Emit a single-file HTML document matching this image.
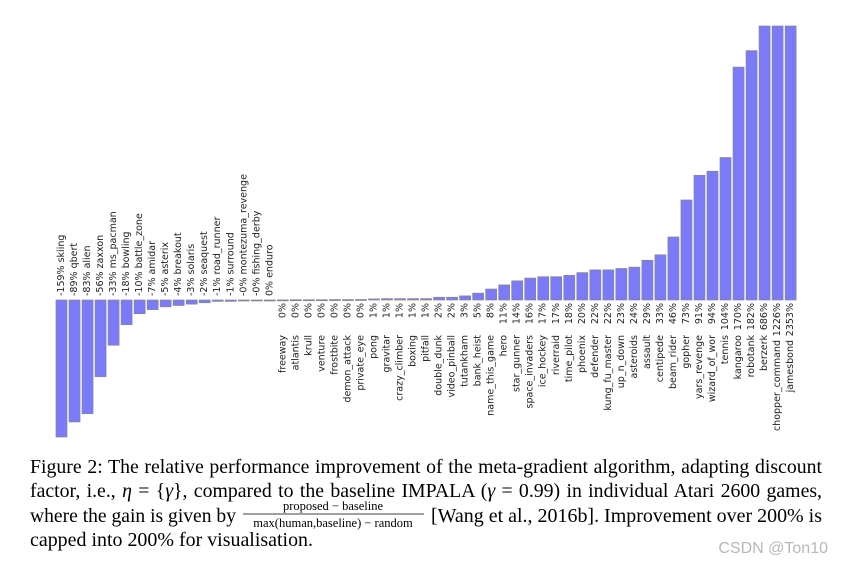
<!DOCTYPE html>
<html><head><meta charset="utf-8"><style>
body{margin:0;background:#fff;width:842px;height:565px;overflow:hidden;position:relative}
svg{display:block;position:absolute;left:0;top:0}
.cap{font-family:"Liberation Serif",serif;font-size:19.8px;fill:#000}
.line{position:absolute;left:30px;width:792px;font-family:"Liberation Serif",serif;font-size:19.8px;color:#000;text-align:justify;text-align-last:justify;line-height:22px;height:22px;overflow:hidden}
.lab{font-family:"DejaVu Sans","Liberation Sans",sans-serif;font-size:9.5px;fill:#222}
</style></head><body>
<svg id="chart" width="842" height="565">
<g id="bars"></g>
<g id="labels"></g>
<g>
<text class="cap" x="30" y="522" textLength="206" lengthAdjust="spacingAndGlyphs">where the gain is given by</text>
<text class="cap" x="333" y="510" text-anchor="middle" style="font-size:12.5px">proposed − baseline</text>
<line x1="243" x2="424" y1="514" y2="514" stroke="#000" stroke-width="0.8"/>
<text class="cap" x="333" y="527" text-anchor="middle" style="font-size:12.5px">max(human,baseline) − random</text>
<text class="cap" x="431" y="522" textLength="391" lengthAdjust="spacingAndGlyphs">[Wang et al., 2016b]. Improvement over 200% is</text>
<text class="cap" x="30" y="546" textLength="283" lengthAdjust="spacingAndGlyphs">capped into 200% for visualisation.</text>
</g>
<text x="828" y="553" text-anchor="end" style="font-family:'Liberation Sans',sans-serif;font-size:16px;fill:#b8b8b8">CSDN @Ton10</text>
</svg>
<div class="line" style="top:456px">Figure 2: The relative performance improvement of the meta-gradient algorithm, adapting discount</div>
<div class="line" style="top:480px">factor, i.e., <i>η</i> = {<i>γ</i>}, compared to the baseline IMPALA (<i>γ</i> = 0.99) in individual Atari 2600 games,</div>
<script>
const games=["skiing","qbert","alien","zaxxon","ms_pacman","bowling","battle_zone","amidar","asterix","breakout","solaris","seaquest","road_runner","surround","montezuma_revenge","fishing_derby","enduro","freeway","atlantis","krull","venture","frostbite","demon_attack","private_eye","pong","gravitar","crazy_climber","boxing","pitfall","double_dunk","video_pinball","tutankham","bank_heist","name_this_game","hero","star_gunner","space_invaders","ice_hockey","riverraid","time_pilot","phoenix","defender","kung_fu_master","up_n_down","asteroids","assault","centipede","beam_rider","gopher","yars_revenge","wizard_of_wor","tennis","kangaroo","robotank","berzerk","chopper_command","jamesbond"];
const values=[-159,-89,-83,-56,-33,-18,-10,-7,-5,-4,-3,-2,-1,-1,-0.2,-0.2,0,0.1,0.2,0.2,0.2,0.3,0.3,0.4,0.8,1,1,1,1,2,2,3,5,8,11,14,16,17,17,18,20,22,22,23,24,29,33,46,73,91,94,104,170,182,686,1226,2353];
const valueLabels=["-159%","-89%","-83%","-56%","-33%","-18%","-10%","-7%","-5%","-4%","-3%","-2%","-1%","-1%","-0%","-0%","0%","0%","0%","0%","0%","0%","0%","0%","1%","1%","1%","1%","1%","2%","2%","3%","5%","8%","11%","14%","16%","17%","17%","18%","20%","22%","22%","23%","24%","29%","33%","46%","73%","91%","94%","104%","170%","182%","686%","1226%","2353%"];
const capMin=-100, capMax=200;
const ns="http://www.w3.org/2000/svg";
const x0=61.5, pitch=13.02, bw=11, zeroY=300, pxPer=1.37;
const xs=i=>x0+i*pitch;
const ys=v=>zeroY-Math.max(capMin,Math.min(capMax,v))*pxPer;
const gb=document.getElementById('bars'), gl=document.getElementById('labels');
games.forEach((g,i)=>{
  const v=values[i], cx=xs(i), y=ys(v);
  const r=document.createElementNS(ns,'rect');
  r.setAttribute('x',cx-bw/2);r.setAttribute('width',bw);
  r.setAttribute('y',Math.min(y,zeroY));r.setAttribute('height',Math.max(Math.abs(zeroY-y),1));
  r.setAttribute('fill','#7b7bfa');r.setAttribute('stroke','#888');r.setAttribute('stroke-width','0.7');
  
  
  gb.appendChild(r);
  if(i<17){
    const t=document.createElementNS(ns,'text');
    t.setAttribute('class','lab');t.setAttribute('text-anchor','start');t.setAttribute('dominant-baseline','central');
    t.setAttribute('transform',`translate(${cx},296) rotate(-90)`);
    t.textContent=valueLabels[i]+' '+g;
    
    
    gl.appendChild(t);
  } else {
    const p=document.createElementNS(ns,'text');
    p.setAttribute('class','lab');p.setAttribute('text-anchor','end');p.setAttribute('dominant-baseline','central');
    p.setAttribute('transform',`translate(${cx},303) rotate(-90)`);
    p.textContent=valueLabels[i];
    
    
    gl.appendChild(p);
    const off=Math.max(valueLabels[i].length*6.2,26)+6;
    const t=document.createElementNS(ns,'text');
    t.setAttribute('class','lab');t.setAttribute('text-anchor','end');t.setAttribute('dominant-baseline','central');
    t.setAttribute('transform',`translate(${cx},${303+off}) rotate(-90)`);
    t.textContent=g;
    
    
    gl.appendChild(t);
  }
});
</script>
</body></html>
